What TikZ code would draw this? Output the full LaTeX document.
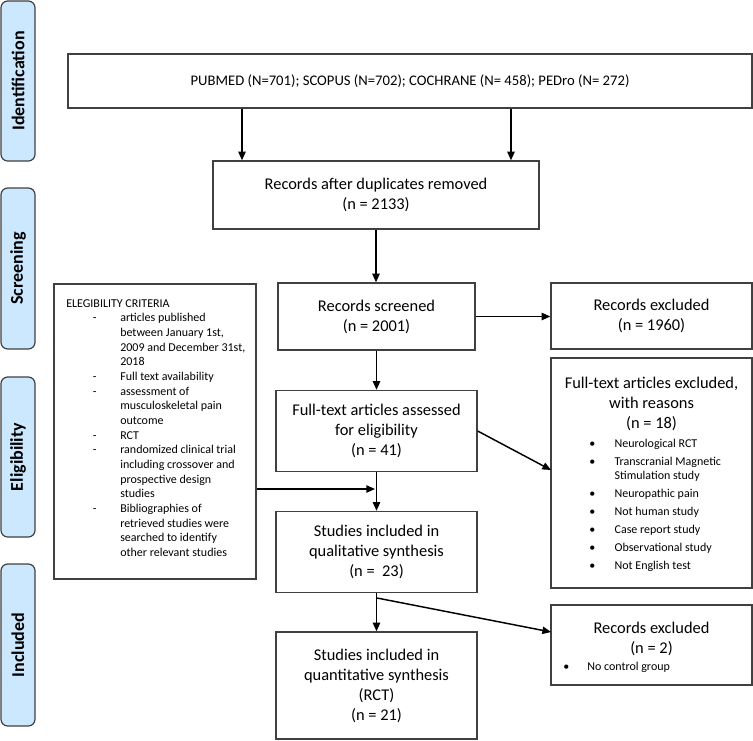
\documentclass[tikz,border=0pt]{standalone}
\usepackage{fontspec}
\setmainfont{Carlito}
\usetikzlibrary{arrows.meta}
\newcommand\pxu{0.75pt}
\definecolor{barfill}{RGB}{204,232,255}
\definecolor{boxline}{RGB}{64,64,64}
\begin{document}
\begin{tikzpicture}[x=0.75pt,y=-0.75pt,
  box/.style={draw=boxline, line width=1pt, inner sep=0pt, align=center, font=\fontsize{12.3}{15}\selectfont},
  head/.style={inner sep=0pt, align=center, font=\fontsize{12.3}{15}\selectfont},
  bar/.style={draw=boxline, fill=barfill, line width=0.9pt, rounded corners=5pt, rotate=90, minimum height=34*\pxu, inner sep=0pt, font=\fontsize{13.5}{15}\selectfont\bfseries},
  arr/.style={-{Triangle[length=6.5pt,width=5.5pt]}, line width=1.1pt, black},
  small/.style={font=\fontsize{9}{11}\selectfont, inner sep=0pt},
  smaller/.style={font=\fontsize{9}{10.5}\selectfont, inner sep=0pt}
]
\useasboundingbox (0,0) rectangle (753,740);
% side bars
\node[bar, minimum width=160*\pxu] (b1) at (18,81) {Identification};
\node[bar, minimum width=161*\pxu] (b2) at (18,268.5) {Screening};
\node[bar, minimum width=160*\pxu] (b3) at (18,457) {Eligibility};
\node[bar, minimum width=162*\pxu] (b4) at (18,645) {Included};
% boxes
\node[box, minimum width=684*\pxu, minimum height=54*\pxu, font=\fontsize{11}{14}\selectfont] (top) at (410,81) {PUBMED (N=701); SCOPUS (N=702); COCHRANE (N= 458); PEDro (N= 272)};
\node[box, minimum width=326*\pxu, minimum height=68*\pxu] (dup) at (376,195) {Records after duplicates removed\\(n = 2133)};
\node[box, minimum width=197*\pxu, minimum height=67*\pxu] (scr) at (376.5,316.5) {Records screened\\(n = 2001)};
\node[box, minimum width=201*\pxu, minimum height=66*\pxu] (exc1) at (651.5,316) {Records excluded\\(n = 1960)};
\node[box, minimum width=201*\pxu, minimum height=81*\pxu] (ft) at (376.5,431) {Full-text articles assessed\\for eligibility\\(n = 41)};
\node[box, minimum width=201*\pxu, minimum height=230*\pxu] (exc2) at (651.5,473) {};
\node[head] (exc2h) at (651.5,404) {Full-text articles excluded,\\with reasons\\(n = 18)};
\node[box, minimum width=201*\pxu, minimum height=81*\pxu] (qual) at (376.5,552) {Studies included in\\qualitative synthesis\\(n =\ \ 23)};
\node[box, minimum width=201*\pxu, minimum height=80*\pxu] (exc3) at (651.5,645) {};
\node[head] (exc3h) at (651.5,639) {Records excluded\\(n = 2)};
\node[box, minimum width=201*\pxu, minimum height=107*\pxu] (quant) at (376.5,685.5) {Studies included in\\quantitative synthesis\\(RCT)\\(n = 21)};
\node[box, minimum width=202*\pxu, minimum height=295*\pxu] (crit) at (155,431.5) {};
% criteria text
\node[small, anchor=north west] (crittext) at (66,296.5) {%
\begin{tabular}{@{}p{40.5pt}@{}l@{}}
\multicolumn{2}{@{}l@{}}{ELEGIBILITY CRITERIA}\\
\hspace*{20pt}- & articles published\\
 & between January 1st,\\
 & 2009 and December 31st,\\
 & 2018\\
\hspace*{20pt}- & Full text availability\\
\hspace*{20pt}- & assessment of\\
 & musculoskeletal pain\\
 & outcome\\
\hspace*{20pt}- & RCT\\
\hspace*{20pt}- & randomized clinical trial\\
 & including crossover and\\
 & prospective design\\
 & studies\\
\hspace*{20pt}- & Bibliographies of\\
 & retrieved studies were\\
 & searched to identify\\
 & other relevant studies
\end{tabular}};
% exclusion reasons
\node[smaller, anchor=north west] (exc2list) at (589,437.5) {%
\begin{tabular}{@{}p{19pt}@{}l@{}}
\textbullet & Neurological RCT\\[3pt]
\textbullet & Transcranial Magnetic\\
 & Stimulation study\\[3pt]
\textbullet & Neuropathic pain\\[3pt]
\textbullet & Not human study\\[3pt]
\textbullet & Case report study\\[3pt]
\textbullet & Observational study\\[3pt]
\textbullet & Not English test
\end{tabular}};
\node[smaller, anchor=base west] (exc3list) at (563,670) {\makebox[18pt][l]{\textbullet}No control group};
% connectors
\coordinate (xL) at (242,0);
\coordinate (xR) at (511,0);
\coordinate (e2) at (551,470);
\coordinate (cj) at (375,489);
\coordinate (br) at (377,598);
\coordinate (e3) at (551,632);
\draw[arr] (top.south -| xL) -- (dup.north -| xL);
\draw[arr] (top.south -| xR) -- (dup.north -| xR);
\draw[arr] (dup.south) -- (dup.south |- scr.north);
\draw[arr] (scr.east) -- (scr.east -| exc1.west);
\draw[arr] (scr.south) -- (ft.north);
\draw[arr] (ft.east) -- (e2);
\draw[arr] (ft.south) -- (qual.north);
\draw[arr] (crit.east |- cj) -- (cj);
\draw[arr] (qual.south) -- (quant.north);
\draw[arr] (br) -- (e3);
\end{tikzpicture}
\end{document}
